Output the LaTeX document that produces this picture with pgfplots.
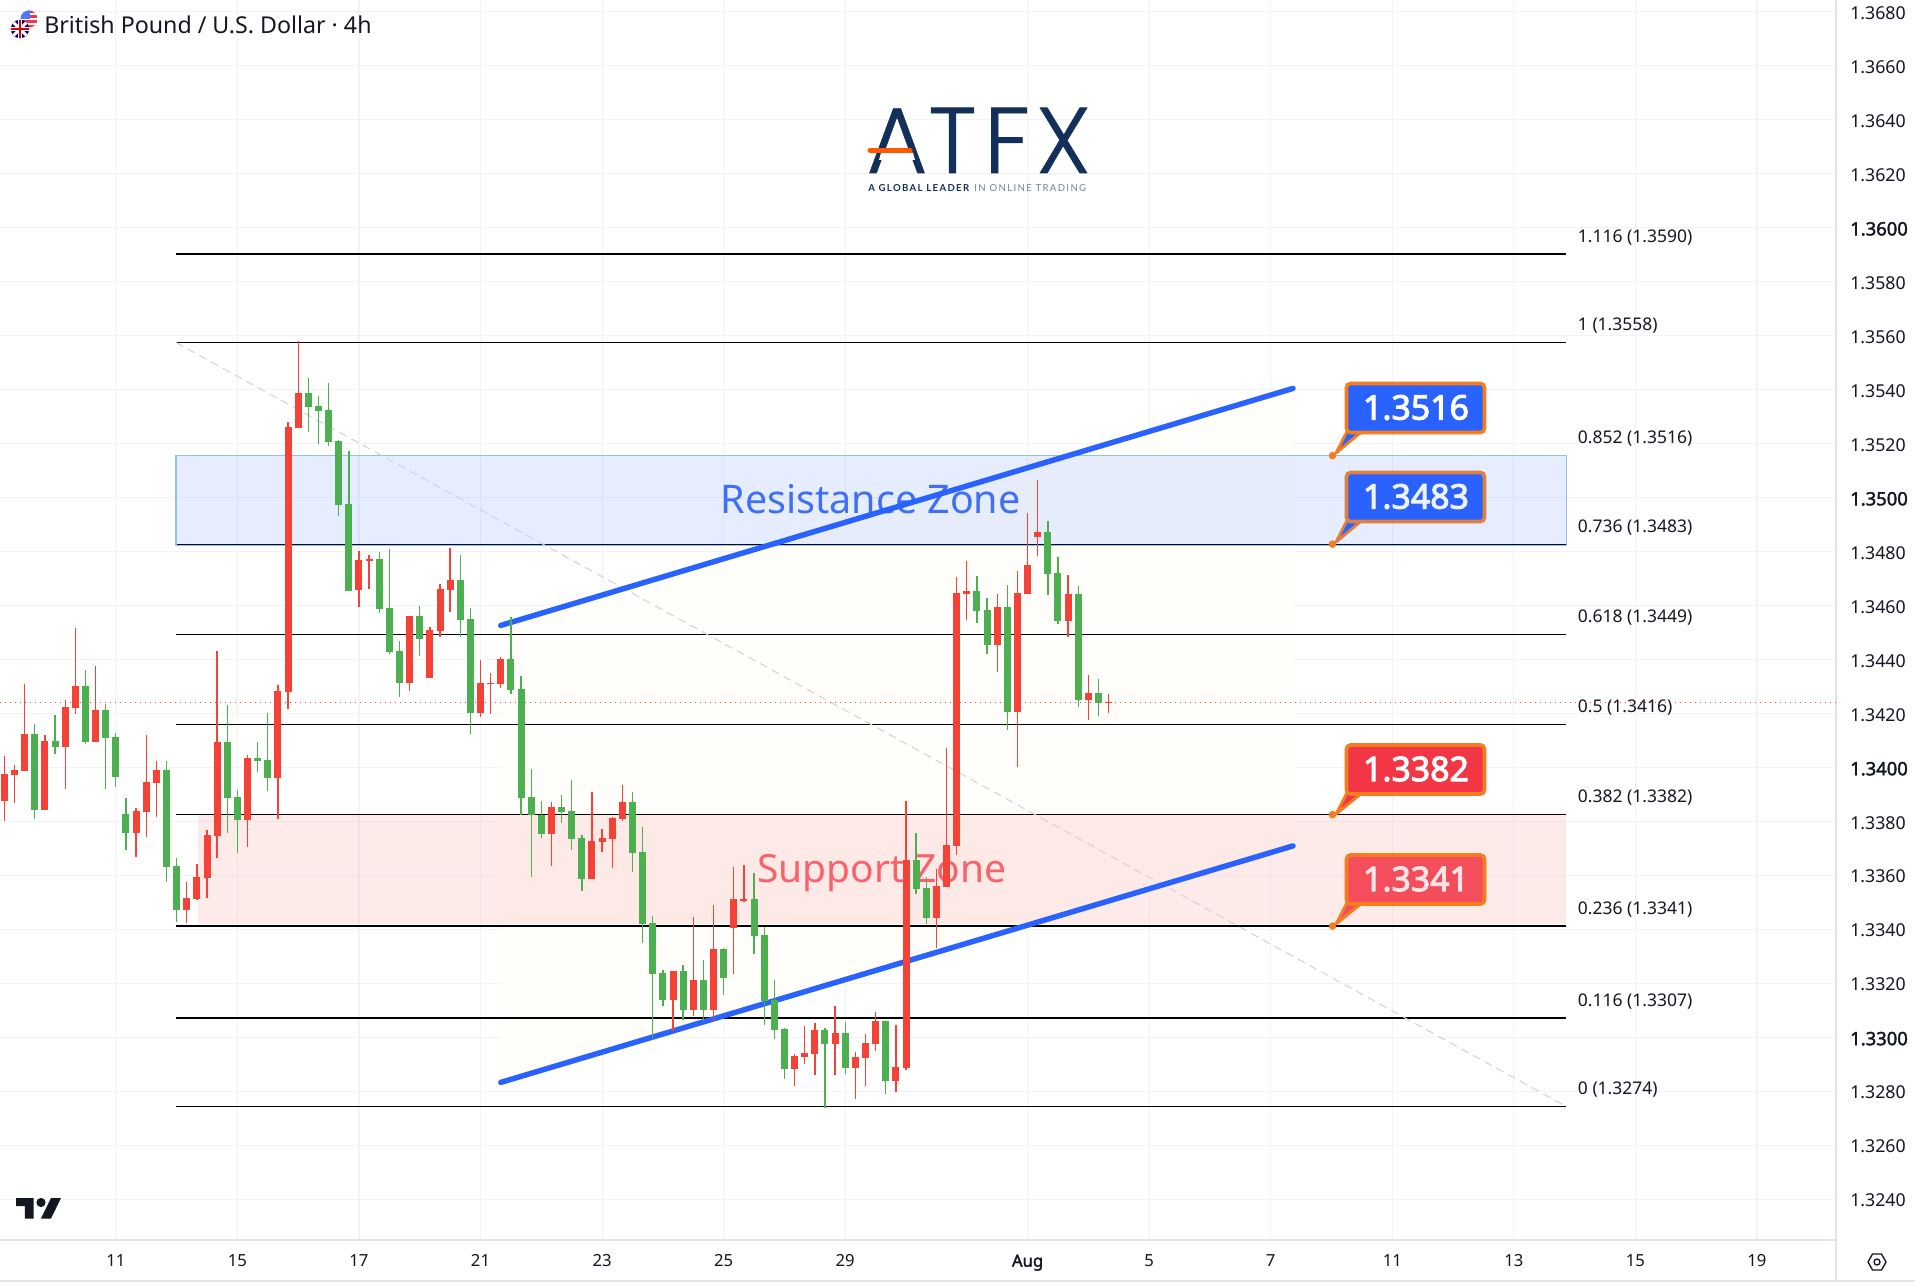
\documentclass[border=0pt]{standalone}
\usepackage{fontspec}
\setmainfont{Noto Sans}[BoldFont=*,BoldFeatures={FakeBold=2}]
\newfontfamily\calloutfont[FakeBold=3]{Noto Sans}
\newfontfamily\logofont[FakeBold=0.6]{Poppins Light}
\newfontfamily\tagfont[LetterSpace=14]{Lato}
\usepackage{pgfplots}
\usepackage{pgfplotstable}
\pgfplotsset{compat=1.18}
\newcommand\fs[1]{\fontsize{#1}{#1}\selectfont}
\definecolor{upred}{HTML}{F44336}
\definecolor{downgreen}{HTML}{4CAF50}
\definecolor{tvblue}{HTML}{2962FF}
\definecolor{gridc}{HTML}{F1F3F6}
\definecolor{axisc}{HTML}{E0E3EB}
\definecolor{ink}{HTML}{131722}
\definecolor{navy}{HTML}{12305A}
\definecolor{orangec}{HTML}{F57C1F}
\definecolor{zoneb}{HTML}{90BFF9}
\definecolor{chan}{HTML}{FFFEFA}
\definecolor{redA}{HTML}{F23645}
\definecolor{redB}{HTML}{F44E5C}
\definecolor{txtR}{HTML}{3F6FF5}
\definecolor{txtS}{HTML}{F9616D}
\definecolor{brdB}{HTML}{E08040}
\pgfplotstableread{
x o h l c
0 1.33877 1.34042 1.33802 1.33976
1 1.33972 1.34010 1.33868 1.33991
2 1.33988 1.34309 1.33988 1.34124
4 1.33843 1.34120 1.33843 1.34098
6 1.34076 1.34249 1.33921 1.34224
7 1.34221 1.34517 1.34199 1.34302
9 1.34095 1.34376 1.34095 1.34214
13 1.33758 1.33850 1.33669 1.33839
14 1.33836 1.34120 1.33742 1.33947
15 1.33943 1.34025 1.33817 1.33991
18 1.33472 1.33576 1.33424 1.33516
19 1.33513 1.33642 1.33509 1.33594
20 1.33591 1.33768 1.33516 1.33751
21 1.33746 1.34432 1.33664 1.34095
24 1.33805 1.34047 1.33705 1.34035
27 1.33962 1.34306 1.33809 1.34284
28 1.34280 1.35280 1.34217 1.35261
29 1.35258 1.35579 1.35258 1.35387
35 1.34658 1.34803 1.34595 1.34769
36 1.34766 1.34788 1.34661 1.34773
40 1.34313 1.34561 1.34284 1.34561
42 1.34332 1.34521 1.34332 1.34510
43 1.34505 1.34680 1.34483 1.34662
44 1.34658 1.34813 1.34577 1.34694
47 1.34202 1.34398 1.34187 1.34313
48 1.34309 1.34350 1.34199 1.34315
49 1.34309 1.34410 1.34294 1.34403
54 1.33754 1.33872 1.33635 1.33854
58 1.33587 1.33909 1.33587 1.33728
59 1.33724 1.33772 1.33687 1.33739
60 1.33735 1.33817 1.33628 1.33813
61 1.33809 1.33935 1.33802 1.33872
66 1.33139 1.33246 1.33024 1.33246
68 1.33102 1.33446 1.33080 1.33213
70 1.33102 1.33491 1.33059 1.33328
72 1.33405 1.33632 1.33235 1.33513
73 1.33507 1.33639 1.33502 1.33512
78 1.32883 1.32939 1.32820 1.32931
79 1.32928 1.33043 1.32902 1.32942
80 1.32939 1.33054 1.32861 1.33028
82 1.32976 1.33117 1.32861 1.33016
84 1.32887 1.32946 1.32772 1.32928
85 1.32924 1.33013 1.32820 1.32979
86 1.32976 1.33094 1.32950 1.33061
88 1.32839 1.33046 1.32798 1.32891
89 1.32887 1.33876 1.32879 1.33657
92 1.33443 1.33624 1.33331 1.33561
93 1.33557 1.34072 1.33557 1.33713
94 1.33710 1.34705 1.33676 1.34647
95 1.34645 1.34766 1.34547 1.34653
98 1.34454 1.34643 1.34355 1.34595
100 1.34206 1.34728 1.34002 1.34647
101 1.34643 1.34943 1.34643 1.34751
102 1.34854 1.35065 1.34784 1.34873
105 1.34544 1.34713 1.34483 1.34643
107 1.34250 1.34343 1.34176 1.34276
109 1.34240 1.34273 1.34202 1.34243
}\redtable
\pgfplotstableread{
x o h l c
3 1.34124 1.34161 1.33809 1.33843
5 1.34098 1.34195 1.34050 1.34076
8 1.34302 1.34362 1.34088 1.34094
10 1.34214 1.34237 1.33921 1.34110
11 1.34113 1.34129 1.33928 1.33965
12 1.33828 1.33887 1.33695 1.33758
16 1.33991 1.34025 1.33576 1.33632
17 1.33635 1.33664 1.33428 1.33472
22 1.34095 1.34231 1.33758 1.33887
23 1.33891 1.33916 1.33683 1.33805
25 1.34035 1.34095 1.33984 1.34025
26 1.34028 1.34202 1.33913 1.33962
30 1.35387 1.35443 1.35244 1.35336
31 1.35340 1.35377 1.35198 1.35321
32 1.35324 1.35425 1.35191 1.35206
33 1.35210 1.35214 1.34932 1.34973
34 1.34977 1.35173 1.34653 1.34656
37 1.34773 1.34798 1.34573 1.34587
38 1.34592 1.34810 1.34420 1.34428
39 1.34432 1.34469 1.34262 1.34313
41 1.34561 1.34599 1.34413 1.34476
45 1.34694 1.34788 1.34483 1.34546
46 1.34551 1.34592 1.34124 1.34202
50 1.34403 1.34558 1.34272 1.34287
51 1.34291 1.34340 1.33823 1.33887
52 1.33891 1.33994 1.33594 1.33823
53 1.33824 1.33876 1.33739 1.33754
55 1.33854 1.33898 1.33795 1.33835
56 1.33839 1.33954 1.33694 1.33735
57 1.33739 1.33750 1.33543 1.33587
62 1.33872 1.33909 1.33613 1.33683
63 1.33687 1.33780 1.33351 1.33420
64 1.33424 1.33450 1.32993 1.33235
65 1.33239 1.33250 1.33117 1.33139
67 1.33246 1.33268 1.33065 1.33102
69 1.33213 1.33287 1.33061 1.33102
71 1.33328 1.33331 1.33157 1.33220
74 1.33513 1.33609 1.33309 1.33376
75 1.33380 1.33409 1.33046 1.33135
76 1.33139 1.33213 1.32994 1.33028
77 1.33031 1.33035 1.32846 1.32883
81 1.33028 1.33035 1.32739 1.32976
83 1.33016 1.33057 1.32865 1.32887
87 1.33061 1.33061 1.32791 1.32839
90 1.33657 1.33758 1.33531 1.33550
91 1.33554 1.33594 1.33420 1.33443
96 1.34654 1.34710 1.34536 1.34580
97 1.34584 1.34628 1.34421 1.34454
99 1.34595 1.34678 1.34140 1.34206
103 1.34873 1.34914 1.34639 1.34718
104 1.34721 1.34780 1.34532 1.34544
106 1.34643 1.34672 1.34225 1.34250
108 1.34276 1.34327 1.34191 1.34240
}\greentable
\newcommand\Bz[1]{{\fs{13.8}\textbf{#1}}}
\newcommand\fibline[2]{%
  \addplot[black,line width=0.95pt,forget plot] coordinates {(16.94,#1) (154.16,#1)};
  \node[anchor=west,inner sep=0pt,text=ink,font=\fs{13.1}] at (axis cs:154.16,#1) [xshift=8.7pt,yshift=12.6pt] {#2};
}
% callout: top y, tip y, fill, text colour, border colour, label
\newcommand\callout[6]{%
  \filldraw[line width=2.1pt,draw=#5,fill=#3,line join=round]
    (1350,#1+42) -- (1336,#2-2) -- (1362,#1+48) -- cycle;
  \filldraw[line width=2.7pt,draw=#5,fill=#3,rounded corners=3pt]
    (1346.5,#1) rectangle (1484.5,#1+49);
  \node[text=#4,font=\calloutfont\fs{25.4},inner sep=0pt] at (1416,#1+24) {#6};
}
\begin{document}
\begin{tikzpicture}
\fill[white] (0,0) rectangle (1436.25pt,-965.25pt);
\path[use as bounding box] (0,0) rectangle (1436.25pt,-965.25pt);
\begin{axis}[
  at={(0pt,0pt)},anchor=north west,
  scale only axis,width=1377pt,height=930pt,
  xmin=-0.434,xmax=180.8,ymin=1.32250,ymax=1.36844,
  axis x line*=bottom,axis y line*=right,
  x axis line style={-,draw=axisc,line width=1.2pt},
  y axis line style={-,draw=axisc,line width=1.2pt},
  clip=true,
  grid=major,grid style={gridc,line width=0.8pt},
  major tick length=0pt,
  scaled y ticks=false,
  xtick={11,23,35,47,59,71,83,101,113,125,137,149,161,173},
  xticklabels={11,15,17,21,23,25,29,\textbf{Aug},5,7,11,13,15,19},
  xticklabel style={anchor=base,yshift=-20pt,text=ink,font=\fs{12.5}},
  ytick={1.324,1.326,1.328,1.330,1.332,1.334,1.336,1.338,1.340,1.342,1.344,1.346,1.348,1.350,1.352,1.354,1.356,1.358,1.360,1.362,1.364,1.366,1.368},
  yticklabels={1.3240,1.3260,1.3280,\Bz{1.3300},1.3320,1.3340,1.3360,1.3380,\Bz{1.3400},1.3420,1.3440,1.3460,1.3480,\Bz{1.3500},1.3520,1.3540,1.3560,1.3580,\Bz{1.3600},1.3620,1.3640,1.3660,1.3680},
  yticklabel style={anchor=west,inner sep=0pt,xshift=10.5pt,yshift=-0.8pt,text=ink,font=\fs{13.3}},
]
% channel background
\addplot[fill=chan,draw=none,forget plot] coordinates {(49,1.34527) (127.2,1.35405) (127.2,1.3371) (49,1.32834)} --cycle;
% fib levels
\fibline{1.35903}{1.116 (1.3590)}
\fibline{1.35575}{1 (1.3558)}
\fibline{1.35156}{0.852 (1.3516)}
\fibline{1.34828}{0.736 (1.3483)}
\fibline{1.34494}{0.618 (1.3449)}
\fibline{1.34160}{0.5 (1.3416)}
\fibline{1.33826}{0.382 (1.3382)}
\fibline{1.33413}{0.236 (1.3341)}
\fibline{1.33073}{0.116 (1.3307)}
\fibline{1.32745}{0 (1.3274)}
% zones
\addplot[fill=tvblue,fill opacity=0.115,draw=zoneb,line width=0.9pt,forget plot] coordinates {(16.94,1.35156) (154.16,1.35156) (154.16,1.34822) (16.94,1.34822)} --cycle;
\addplot[fill=upred,fill opacity=0.10,draw=none,forget plot] coordinates {(19.11,1.33826) (154.16,1.33826) (154.16,1.33420) (19.11,1.33420)} --cycle;
% fib trend line
\addplot[color=black!17,line width=0.8pt,dash pattern=on 6pt off 4pt,forget plot] coordinates {(16.94,1.35575) (154.16,1.32745)};
% texts
\node[text=txtR,font=\fs{29.6},inner sep=0pt] at (axis cs:85.5,1.34994) {Resistance Zone};
\node[text=txtS,font=\fs{29.2},inner sep=0pt] at (axis cs:86.6,1.33609) {Support Zone};
% channel lines
\addplot[color=tvblue,line width=4.1pt,line cap=round,forget plot] coordinates {(49,1.34527) (127.2,1.35405)};
\addplot[color=tvblue,line width=4.1pt,line cap=round,forget plot] coordinates {(49,1.32834) (127.2,1.33710)};
% last price
\addplot[color=upred,line width=0.8pt,dash pattern=on 1pt off 2.75pt,forget plot] coordinates {(-0.434,1.34242) (180.8,1.34242)};
% wicks
\addplot[draw=none,mark=none,forget plot,error bars/.cd,y dir=plus,y explicit,error mark=none,
  error bar style={draw=upred,line width=1pt}]
  table[x=x,y=l,y error plus expr=\thisrow{h}-\thisrow{l}] {\redtable};
\addplot[draw=none,mark=none,forget plot,error bars/.cd,y dir=plus,y explicit,error mark=none,
  error bar style={draw=downgreen,line width=1pt}]
  table[x=x,y=l,y error plus expr=\thisrow{h}-\thisrow{l}] {\greentable};
% bodies
\addplot[draw=none,mark=none,forget plot,error bars/.cd,y dir=plus,y explicit,error mark=none,
  error bar style={draw=upred,line width=5.25pt}]
  table[x=x,y=o,y error plus expr=\thisrow{c}-\thisrow{o}] {\redtable};
\addplot[draw=none,mark=none,forget plot,error bars/.cd,y dir=plus,y explicit,error mark=none,
  error bar style={draw=downgreen,line width=5.25pt}]
  table[x=x,y=c,y error plus expr=\thisrow{o}-\thisrow{c}] {\greentable};
% callout anchors
\addplot[only marks,mark=*,mark size=2.6pt,color=orangec,forget plot] coordinates {(131.1,1.35156) (131.1,1.34828) (131.1,1.33826) (131.1,1.33413)};
\end{axis}
\begin{scope}[x=0.75pt,y=-0.75pt]
% frame
\draw[axisc,line width=1.2pt] (0,1281) -- (1915,1281);
\draw[axisc,line width=1.2pt] (1836,1240) -- (1836,1281);
% title
\node[anchor=west,inner sep=0pt,text=ink,font=\fs{17.4}] at (44,24.5) {British Pound / U.S. Dollar · 4h};
% flags
\begin{scope}
\clip (29,19) circle (8.5);
\fill[white] (20,10) rectangle (38,28);
\foreach \yy in {10.5,15.5,20.5,25.5} {\fill[redA] (20,\yy) rectangle (38,\yy+2.5);}
\fill[tvblue!85!white] (20,10) rectangle (30,19);
\end{scope}
\begin{scope}
\clip (20,29) circle (9.2);
\fill[blue!45!black] (10,19) rectangle (30,39);
\draw[white,line width=2.2pt] (10,19) -- (30,39) (10,39) -- (30,19);
\draw[white,line width=3pt] (20,19) -- (20,39) (10,29) -- (30,29);
\draw[red!85!black,line width=1.6pt] (20,19) -- (20,39) (10,29) -- (30,29);
\end{scope}
% ATFX logo
\node[anchor=base,inner sep=0pt,text=navy,font=\logofont\fs{70}] at (897,173) {A};
\node[anchor=base,inner sep=0pt,text=navy,font=\logofont\fs{70}] at (952.5,173) {T};
\node[anchor=base,inner sep=0pt,text=navy,font=\logofont\fs{70}] at (1007,173) {F};
\node[anchor=base,inner sep=0pt,text=navy,font=\logofont\fs{70}] at (1063.5,173) {X};
\fill[white] (881,152.7) -- (913,152.7) -- (915,160) -- (879,160) -- cycle;
\draw[color=orange!70!red,line width=3.9pt,line cap=round] (870,150.3) -- (910,150.3);
\node[anchor=base west,inner sep=0pt,font=\tagfont\fs{7.2}] at (868,192) {\textcolor{navy}{\textbf{A GLOBAL LEADER}} \textcolor{navy!60!white}{IN ONLINE TRADING}};
% TV logo
\fill[ink] (16,1198) -- (33.5,1198) -- (33.5,1218.5) -- (24.75,1218.5) -- (24.75,1206.2) -- (16,1206.2) -- cycle;
\fill[ink] (41,1202.5) circle (4.6);
\fill[ink] (51,1198) -- (61,1198) -- (51,1218.5) -- (41,1218.5) -- cycle;
% settings icon
\draw[ink,line width=1pt,line join=round] (1868,1262) -- (1872.5,1254) -- (1881.5,1254) -- (1886,1262) -- (1881.5,1270) -- (1872.5,1270) -- cycle;
\draw[ink,line width=1pt] (1877,1262) circle (3);
% callouts
\callout{383.5}{455}{tvblue}{white}{orangec}{1.3516}
\callout{472.5}{544}{tvblue}{white!92!tvblue}{brdB}{1.3483}
\callout{745}{816}{redA}{white}{orangec}{1.3382}
\callout{855}{926}{redB}{white!90!red}{orangec}{1.3341}
\end{scope}
\end{tikzpicture}
\end{document}
